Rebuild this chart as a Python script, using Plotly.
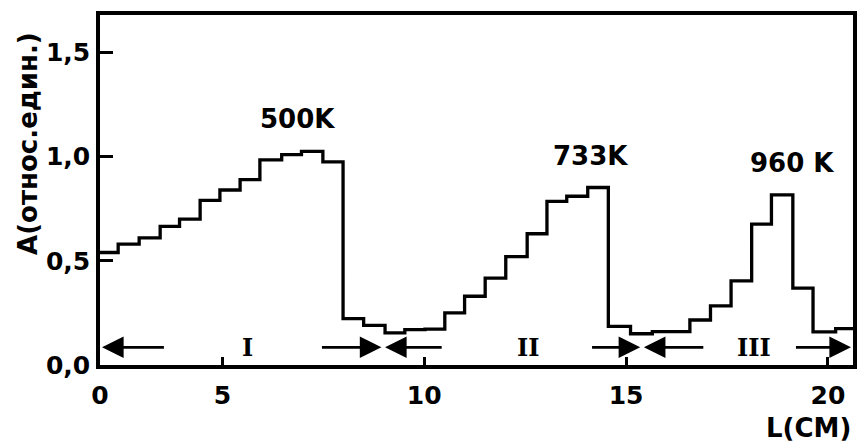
import plotly.graph_objects as go

# Bin edges along L (linear axis coordinate)
edges = [1.97, 2.42, 2.94, 3.46, 3.94, 4.45, 4.94, 5.44, 5.93, 6.47, 6.96, 7.49,
         7.99, 8.50, 9.03, 9.52, 10.02, 10.51, 11.00, 11.51, 12.02, 12.55, 13.04,
         13.53, 14.05, 14.56, 15.11, 15.65, 16.12, 16.58, 17.09, 17.60, 18.11,
         18.60, 19.13, 19.63, 20.19, 20.62]
# Amplitude A (relative units) for each bin
levels = [0.54, 0.58, 0.61, 0.665, 0.70, 0.79, 0.84, 0.89, 0.985, 1.01, 1.025, 0.975,
          0.223, 0.19, 0.154, 0.17, 0.172, 0.25, 0.33, 0.417, 0.52, 0.63, 0.785,
          0.81, 0.852, 0.185, 0.15, 0.16, 0.16, 0.216, 0.284, 0.404, 0.676,
          0.817, 0.369, 0.159, 0.175]

# Peak labels
peak_text = ["500K", "733K", "960 K"]
peak_x = [6.85, 14.11, 19.11]
peak_y = [1.183, 1.005, 0.971]

# Zone labels and zone-boundary arrows (tail -> head)
zone_text = ["I", "II", "III"]
zone_x = [5.62, 12.56, 18.18]
arrow_y = 0.085
arrow_tail = [3.59, 7.43, 10.47, 14.12, 16.95, 19.17]
arrow_head = [2.02, 8.94, 9.03, 15.35, 15.44, 20.57]

x_ticks = [1.97, 5, 10, 15, 20]
x_tick_text = ["0", "5", "10", "15", "20"]
y_ticks = [0.0, 0.5, 1.0, 1.5]

FONT = "DejaVu Sans"

fig = go.Figure()
fig.add_trace(go.Scatter(
    x=edges, y=levels + [levels[-1]], mode="lines", line_shape="hv",
    line=dict(color="black", width=3.3), hoverinfo="skip", showlegend=False))

ann = []
for t, x, y in zip(peak_text, peak_x, peak_y):
    ann.append(dict(x=x, y=y, xref="x", yref="y", text=t, showarrow=False,
                    font=dict(family=FONT, size=26, color="black", weight="bold")))
for t, x in zip(zone_text, zone_x):
    ann.append(dict(x=x, y=arrow_y, xref="x", yref="y", text=t, showarrow=False,
                    font=dict(family="DejaVu Serif", size=24, color="black",
                              weight="bold")))
for t0, h in zip(arrow_tail, arrow_head):
    ann.append(dict(x=h, y=arrow_y, ax=t0, ay=arrow_y, xref="x", yref="y",
                    axref="x", ayref="y", text="", showarrow=True, arrowhead=2,
                    arrowsize=1.6, arrowwidth=2.7, arrowcolor="black", standoff=0,
                    startstandoff=0))
ann.append(dict(x=-0.095, y=0.633, xref="paper", yref="paper",
                text="А(относ.един.)", textangle=-90, showarrow=False,
                xanchor="center", yanchor="middle",
                font=dict(family=FONT, size=26, color="black", weight="bold")))
ann.append(dict(x=1.0, y=-0.18, xref="paper", yref="paper", text="L(CM)",
                showarrow=False, xanchor="right", yanchor="middle",
                font=dict(family=FONT, size=26, color="black", weight="bold")))

tick_font = dict(family=FONT, size=25, color="black", weight="bold")

fig.update_layout(
    width=860, height=447,
    margin=dict(l=100, r=3, t=15, b=82),
    paper_bgcolor="white", plot_bgcolor="white",
    separators=",.",
    font=dict(family=FONT, size=25, color="black"),
    annotations=ann,
    xaxis=dict(range=[1.97, 20.62], tickvals=x_ticks, ticktext=x_tick_text,
               ticks="inside", ticklen=8, tickwidth=2.5, tickcolor="black",
               showline=True, linewidth=3.5, linecolor="black", mirror=True,
               showgrid=False, zeroline=False, ticklabelstandoff=5,
               tickfont=tick_font),
    yaxis=dict(range=[0, 1.68], tickvals=y_ticks, tickformat=".1f",
               ticks="inside", ticklen=13, tickwidth=3, tickcolor="black",
               showline=True, linewidth=3.5, linecolor="black", mirror=True,
               showgrid=False, zeroline=False, ticklabelstandoff=1,
               tickfont=tick_font),
)

fig.write_html("out.html")
